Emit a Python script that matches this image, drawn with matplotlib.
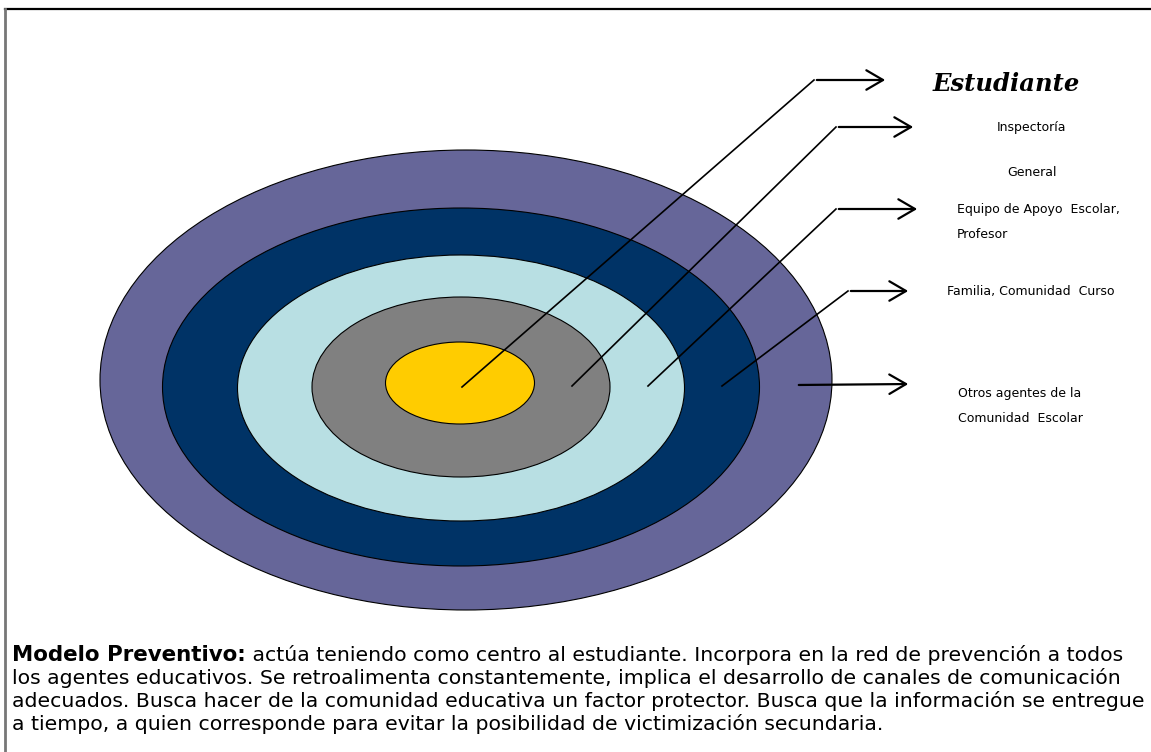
import matplotlib
matplotlib.use('Agg')
import matplotlib.pyplot as plt
from matplotlib.patches import Ellipse

# anillos del modelo (de afuera hacia adentro)
anillos = ['Otros agentes', 'Familia/Curso', 'Equipo de Apoyo', 'Inspectoría', 'Estudiante']
anchos = [732, 597, 447, 298, 149]
altos = [460, 358, 266, 180, 82]
centro_x = [466, 461, 461, 461, 460]
centro_y = [380, 387, 388, 387, 383]
colores = ['#666699', '#003366', '#B8DFE3', '#808080', '#FFCC00']

# flechas: inicio dentro del anillo, codo, punta
inicio = [(462, 387), (572, 386), (648, 386), (722, 386), (796, 385)]
codo = [(814, 80), (836, 127), (836, 209), (848, 291), (796, 385)]
punta = [(888, 80), (916, 127), (920, 209), (911, 291), (911, 384)]

# etiquetas de la derecha
etiquetas = ['Inspectoría', 'General', 'Equipo de Apoyo  Escolar,', 'Profesor',
             'Familia, Comunidad  Curso', 'Otros agentes de la', 'Comunidad  Escolar']
etq_x = [997, 1007, 957, 957, 947, 958, 958]
etq_y = [127, 173, 209, 235, 291, 394, 418]

texto_negrita = 'Modelo Preventivo:'
lineas = [
    ' actúa teniendo como centro al estudiante. Incorpora en la red de prevención a todos',
    'los agentes educativos. Se retroalimenta constantemente, implica el desarrollo de canales de comunicación',
    'adecuados. Busca hacer de la comunidad educativa un factor protector. Busca que la información se entregue',
    'a tiempo, a quien corresponde para evitar la posibilidad de victimización secundaria.',
]

fig = plt.figure(figsize=(11.51, 7.52), dpi=100)
ax = fig.add_axes([0, 0, 1, 1])
ax.set_xlim(0, 1151)
ax.set_ylim(752, 0)
ax.axis('off')

# marco
ax.plot([5, 1151], [9, 9], color='black', lw=1.6)
ax.plot([5, 5], [9, 752], color='#777777', lw=2)

for i in range(len(anillos)):
    e = Ellipse((centro_x[i], centro_y[i]), anchos[i], altos[i],
                facecolor=colores[i], edgecolor='black', lw=0.8, zorder=2)
    ax.add_patch(e)

for a, b, c in zip(inicio, codo, punta):
    ax.plot([a[0], b[0]], [a[1], b[1]], color='black', lw=1.2, zorder=3)
    ax.annotate('', xy=c, xytext=b,
                arrowprops=dict(arrowstyle='->,head_length=0.6,head_width=0.35',
                                color='black', lw=1.6, mutation_scale=20), zorder=3)

ax.text(933, 84, 'Estudiante', fontsize=17.5, family='DejaVu Serif', style='italic',
        weight='bold', va='center', ha='left')
for t, x, y in zip(etiquetas, etq_x, etq_y):
    ax.text(x, y, t, fontsize=9, family='DejaVu Sans',
            va='center', ha='left')

# texto inferior
tam = 14.7
y0 = 655
paso = 23
t_neg = ax.text(12, y0, texto_negrita, fontsize=15.4, weight='bold', va='center', ha='left')
fig.canvas.draw()
bb = t_neg.get_window_extent(renderer=fig.canvas.get_renderer())
x_sig = ax.transData.inverted().transform((bb.x1, bb.y0))[0]
ax.text(x_sig, y0, lineas[0], fontsize=tam, va='center', ha='left')
for k in range(1, len(lineas)):
    ax.text(12, y0 + paso * k, lineas[k], fontsize=tam, va='center', ha='left')

fig.savefig('out.png', dpi=100)
